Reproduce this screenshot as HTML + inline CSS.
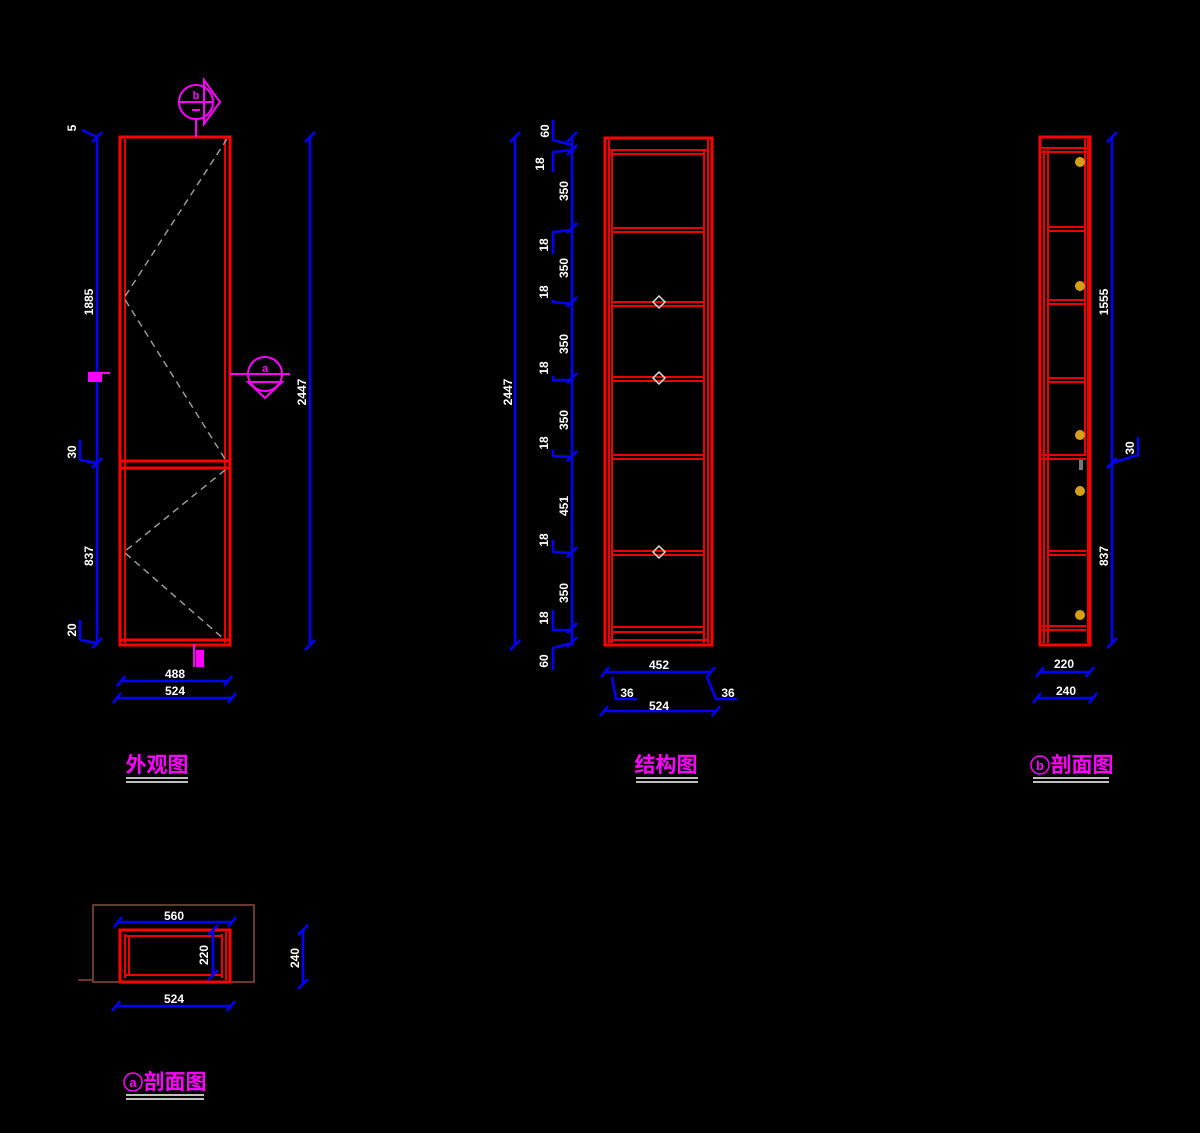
<!DOCTYPE html>
<html><head><meta charset="utf-8"><style>
html,body{margin:0;padding:0;background:#000;}
svg{display:block;}
.t{fill:#fff;font-family:"Liberation Sans",sans-serif;font-weight:bold;font-size:12px;text-anchor:middle;}
.ti{fill:#f0f;font-family:"Liberation Sans","Noto Sans CJK SC",sans-serif;font-weight:bold;font-size:21px;text-anchor:middle;}
.r{stroke:#f00;stroke-width:3;fill:none;}
.r1{stroke:#e00;stroke-width:2;fill:none;}
.b{stroke:#00f;stroke-width:2.5;fill:none;}
.m{stroke:#f0f;stroke-width:2;fill:none;}
.u{stroke:#fff;stroke-width:1.5;}
</style></head><body>
<svg width="1200" height="1133" viewBox="0 0 1200 1133" xmlns="http://www.w3.org/2000/svg">
<rect width="1200" height="1133" fill="#000"/>

<!-- ===== LEFT: 外观图 ===== -->
<rect class="r" x="120" y="137" width="110" height="508"/>
<line class="r1" x1="125" y1="139" x2="125" y2="643"/>
<line class="r1" x1="225" y1="139" x2="225" y2="643"/>
<line class="r" x1="120" y1="461" x2="230" y2="461"/>
<line class="r" x1="120" y1="468" x2="230" y2="468"/>
<line class="r" x1="120" y1="640" x2="230" y2="640"/>
<polyline points="227,139 124,298 225,459" fill="none" stroke="#999" stroke-width="1.5" stroke-dasharray="7,5"/>
<polyline points="225,470 124,552 225,640" fill="none" stroke="#999" stroke-width="1.5" stroke-dasharray="7,5"/>
<line class="b" x1="97" y1="137" x2="97" y2="645"/>
<g stroke="#00f" stroke-width="2.5"><line x1="92" y1="142" x2="102" y2="132"/><line x1="92" y1="468" x2="102" y2="458"/><line x1="92" y1="648" x2="102" y2="638"/><line x1="82" y1="130" x2="97" y2="137"/><line x1="80" y1="440" x2="80" y2="460"/><line x1="80" y1="460" x2="97" y2="463"/><line x1="80" y1="620" x2="80" y2="640"/><line x1="80" y1="640" x2="97" y2="643"/></g>
<text class="t" transform="translate(76,128) rotate(-90)">5</text>
<text class="t" transform="translate(93,302) rotate(-90)">1885</text>
<text class="t" transform="translate(76,452) rotate(-90)">30</text>
<text class="t" transform="translate(93,556) rotate(-90)">837</text>
<text class="t" transform="translate(76,630) rotate(-90)">20</text>
<rect x="88" y="372" width="14" height="10" fill="#f0f"/><line class="m" x1="88" y1="373" x2="110" y2="373"/>
<line class="b" x1="310" y1="137" x2="310" y2="645"/>
<g stroke="#00f" stroke-width="2.5"><line x1="305" y1="142" x2="315" y2="132"/><line x1="305" y1="650" x2="315" y2="640"/></g>
<text class="t" transform="translate(306,392) rotate(-90)">2447</text>
<circle class="m" cx="196" cy="102" r="17"/><line class="m" x1="180" y1="102" x2="212" y2="102"/>
<polygon points="204,80 220,102 204,124" fill="none" stroke="#f0f" stroke-width="2"/>
<line class="m" x1="196" y1="119" x2="196" y2="137"/>
<text x="196" y="99" fill="#f0f" font-size="11" font-family="Liberation Sans" font-weight="bold" text-anchor="middle">b</text>
<line class="m" x1="192" y1="110" x2="200" y2="110"/>
<circle class="m" cx="265" cy="374" r="17"/><line class="m" x1="230" y1="374" x2="290" y2="374"/>
<polygon points="248,382 265,398 282,382" fill="none" stroke="#f0f" stroke-width="2"/>
<text x="265" y="372" fill="#f0f" font-size="11" font-family="Liberation Sans" font-weight="bold" text-anchor="middle">a</text>
<line class="m" x1="261" y1="382" x2="269" y2="382"/>
<rect x="196" y="650" width="8" height="17" fill="#f0f"/><line class="m" x1="194" y1="644" x2="194" y2="667"/>
<line class="b" x1="121" y1="681" x2="228" y2="681"/>
<line class="b" x1="117" y1="698" x2="232" y2="698"/>
<g stroke="#00f" stroke-width="2.5"><line x1="117" y1="686" x2="125" y2="676"/><line x1="224" y1="686" x2="232" y2="676"/><line x1="113" y1="703" x2="121" y2="693"/><line x1="228" y1="703" x2="236" y2="693"/></g>
<text class="t" x="175" y="678">488</text>
<text class="t" x="175" y="695">524</text>
<text class="ti" x="157" y="772">外观图</text>
<line class="u" x1="126" y1="778" x2="188" y2="778"/><line class="u" x1="126" y1="782" x2="188" y2="782"/>

<!-- ===== MIDDLE: 结构图 ===== -->
<rect class="r" x="605" y="138" width="107" height="507"/>
<line class="r1" x1="609" y1="140" x2="609" y2="643"/>
<line class="r1" x1="612" y1="150" x2="612" y2="643"/>
<line class="r1" x1="704" y1="150" x2="704" y2="643"/>
<line class="r1" x1="708" y1="140" x2="708" y2="643"/>
<g class="r1">
<line x1="609" y1="150" x2="708" y2="150"/><line x1="609" y1="154" x2="704" y2="154"/>
<line x1="612" y1="228" x2="704" y2="228"/><line x1="612" y1="232" x2="704" y2="232"/>
<line x1="612" y1="302" x2="704" y2="302"/><line x1="612" y1="306" x2="704" y2="306"/>
<line x1="612" y1="377" x2="704" y2="377"/><line x1="612" y1="381" x2="704" y2="381"/>
<line x1="612" y1="455" x2="704" y2="455"/><line x1="612" y1="459" x2="704" y2="459"/>
<line x1="612" y1="551" x2="704" y2="551"/><line x1="612" y1="555" x2="704" y2="555"/>
<line x1="612" y1="627" x2="704" y2="627"/><line x1="612" y1="632" x2="704" y2="632"/>
<line x1="609" y1="640" x2="708" y2="640"/>
</g>
<g fill="none" stroke="#ddd" stroke-width="1.5"><polygon points="659,296 665,302 659,308 653,302"/><polygon points="659,372 665,378 659,384 653,378"/><polygon points="659,546 665,552 659,558 653,552"/></g>
<line class="b" x1="515" y1="137" x2="515" y2="645"/>
<g stroke="#00f" stroke-width="2.5"><line x1="510" y1="142" x2="520" y2="132"/><line x1="510" y1="650" x2="520" y2="640"/></g>
<text class="t" transform="translate(512,392) rotate(-90)">2447</text>
<line class="b" x1="572" y1="137" x2="572" y2="645"/>
<g stroke="#00f" stroke-width="2.5">
<line x1="567" y1="155" x2="577" y2="145"/><line x1="567" y1="233" x2="577" y2="223"/><line x1="567" y1="307" x2="577" y2="297"/><line x1="567" y1="383" x2="577" y2="373"/><line x1="567" y1="461" x2="577" y2="451"/><line x1="567" y1="557" x2="577" y2="547"/><line x1="567" y1="633" x2="577" y2="623"/><line x1="567" y1="647" x2="577" y2="637"/><line x1="567" y1="142" x2="577" y2="132"/>
<polyline points="553,120 553,140 572,145" fill="none"/>
<polyline points="553,172 553,152 572,150" fill="none"/>
<polyline points="553,254 553,232 572,230" fill="none"/>
<polyline points="553,300 553,302 572,304" fill="none"/>
<polyline points="553,376 553,380 572,380" fill="none"/>
<polyline points="553,450 553,456 572,457" fill="none"/>
<polyline points="553,540 553,552 572,553" fill="none"/>
<polyline points="553,610 553,630 572,630" fill="none"/>
<polyline points="553,670 553,648 572,643" fill="none"/>
</g>
<g class="t">
<text transform="translate(549,131) rotate(-90)">60</text>
<text transform="translate(544,164) rotate(-90)">18</text>
<text transform="translate(568,191) rotate(-90)">350</text>
<text transform="translate(548,245) rotate(-90)">18</text>
<text transform="translate(568,268) rotate(-90)">350</text>
<text transform="translate(548,292) rotate(-90)">18</text>
<text transform="translate(568,344) rotate(-90)">350</text>
<text transform="translate(548,368) rotate(-90)">18</text>
<text transform="translate(568,420) rotate(-90)">350</text>
<text transform="translate(548,443) rotate(-90)">18</text>
<text transform="translate(568,506) rotate(-90)">451</text>
<text transform="translate(548,540) rotate(-90)">18</text>
<text transform="translate(568,593) rotate(-90)">350</text>
<text transform="translate(548,618) rotate(-90)">18</text>
<text transform="translate(548,661) rotate(-90)">60</text>
</g>
<line class="b" x1="605" y1="672" x2="712" y2="672"/>
<line class="b" x1="603" y1="711" x2="716" y2="711"/>
<g stroke="#00f" stroke-width="2.5"><line x1="601" y1="677" x2="609" y2="667"/><line x1="707" y1="677" x2="715" y2="667"/><line x1="600" y1="716" x2="608" y2="706"/><line x1="712" y1="716" x2="720" y2="706"/>
<polyline points="612,677 616,699 637,699" fill="none"/><polyline points="707,677 716,699 737,699" fill="none"/></g>
<text class="t" x="659" y="669">452</text>
<text class="t" x="627" y="697">36</text>
<text class="t" x="728" y="697">36</text>
<text class="t" x="659" y="710">524</text>
<text class="ti" x="666" y="772">结构图</text>
<line class="u" x1="636" y1="778" x2="698" y2="778"/><line class="u" x1="636" y1="782" x2="698" y2="782"/>

<!-- ===== RIGHT: b 剖面图 ===== -->
<rect class="r" x="1040" y="137" width="50" height="508"/>
<g class="r1">
<line x1="1044" y1="150" x2="1044" y2="643"/><line x1="1048" y1="150" x2="1048" y2="643"/>
<line x1="1085" y1="139" x2="1085" y2="455"/><line x1="1088" y1="139" x2="1088" y2="643"/>
<line x1="1042" y1="148" x2="1088" y2="148"/><line x1="1042" y1="152" x2="1088" y2="152"/>
<line x1="1048" y1="227" x2="1086" y2="227"/><line x1="1048" y1="231" x2="1086" y2="231"/>
<line x1="1048" y1="300" x2="1086" y2="300"/><line x1="1048" y1="304" x2="1086" y2="304"/>
<line x1="1048" y1="378" x2="1086" y2="378"/><line x1="1048" y1="382" x2="1086" y2="382"/>
<line x1="1042" y1="455" x2="1086" y2="455"/><line x1="1042" y1="459" x2="1086" y2="459"/>
<line x1="1048" y1="551" x2="1086" y2="551"/><line x1="1048" y1="555" x2="1086" y2="555"/>
<line x1="1042" y1="626" x2="1086" y2="626"/><line x1="1042" y1="630" x2="1086" y2="630"/>
</g>
<g fill="#d4a017"><circle cx="1080" cy="162" r="5"/><circle cx="1080" cy="286" r="5"/><circle cx="1080" cy="435" r="5"/><circle cx="1080" cy="491" r="5"/><circle cx="1080" cy="615" r="5"/></g>
<rect x="1079" y="460" width="4" height="10" fill="#777"/>
<line class="b" x1="1112" y1="137" x2="1112" y2="643"/>
<g stroke="#00f" stroke-width="2.5"><line x1="1107" y1="142" x2="1117" y2="132"/><line x1="1107" y1="468" x2="1117" y2="458"/><line x1="1107" y1="648" x2="1117" y2="638"/><polyline points="1112,463 1138,455 1138,437" fill="none"/></g>
<text class="t" transform="translate(1108,302) rotate(-90)">1555</text>
<text class="t" transform="translate(1134,448) rotate(-90)">30</text>
<text class="t" transform="translate(1108,556) rotate(-90)">837</text>
<line class="b" x1="1040" y1="672" x2="1090" y2="672"/>
<line class="b" x1="1037" y1="698" x2="1093" y2="698"/>
<g stroke="#00f" stroke-width="2.5"><line x1="1036" y1="677" x2="1044" y2="667"/><line x1="1086" y1="677" x2="1094" y2="667"/><line x1="1033" y1="703" x2="1041" y2="693"/><line x1="1089" y1="703" x2="1097" y2="693"/></g>
<text class="t" x="1064" y="668">220</text>
<text class="t" x="1066" y="695">240</text>
<circle cx="1040" cy="765" r="9" fill="none" stroke="#f0f" stroke-width="1.5"/>
<text x="1040" y="770" fill="#f0f" font-size="13" font-family="Liberation Sans" font-weight="bold" text-anchor="middle">b</text>
<text class="ti" x="1082" y="772">剖面图</text>
<line class="u" x1="1033" y1="778" x2="1109" y2="778"/><line class="u" x1="1033" y1="782" x2="1109" y2="782"/>

<!-- ===== BOTTOM: a 剖面图 ===== -->
<rect x="93" y="905" width="161" height="77" fill="none" stroke="#8a4a40" stroke-width="1.5"/>
<line x1="78" y1="980" x2="93" y2="980" stroke="#8a4a40" stroke-width="1.5"/>
<rect class="r" x="120" y="930" width="110" height="52"/>
<g class="r1"><line x1="125" y1="934" x2="125" y2="978"/><line x1="129" y1="936" x2="129" y2="976"/>
<line x1="125" y1="936" x2="222" y2="936"/><line x1="125" y1="975" x2="222" y2="975"/>
<line x1="222" y1="934" x2="222" y2="978"/><line x1="226" y1="932" x2="226" y2="980"/></g>
<line class="b" x1="118" y1="922" x2="232" y2="922"/>
<g stroke="#00f" stroke-width="2.5"><line x1="114" y1="927" x2="122" y2="917"/><line x1="228" y1="927" x2="236" y2="917"/></g>
<text class="t" x="174" y="920">560</text>
<line class="b" x1="213" y1="930" x2="213" y2="976"/>
<g stroke="#00f" stroke-width="2.5"><line x1="208" y1="935" x2="218" y2="925"/><line x1="208" y1="980" x2="218" y2="970"/></g>
<text class="t" transform="translate(208,955) rotate(-90)">220</text>
<line class="b" x1="116" y1="1006" x2="231" y2="1006"/>
<g stroke="#00f" stroke-width="2.5"><line x1="112" y1="1011" x2="120" y2="1001"/><line x1="227" y1="1011" x2="235" y2="1001"/></g>
<text class="t" x="174" y="1003">524</text>
<line class="b" x1="303" y1="930" x2="303" y2="984"/>
<g stroke="#00f" stroke-width="2.5"><line x1="298" y1="935" x2="308" y2="925"/><line x1="298" y1="989" x2="308" y2="979"/></g>
<text class="t" transform="translate(299,958) rotate(-90)">240</text>
<circle cx="133" cy="1082" r="9" fill="none" stroke="#f0f" stroke-width="1.5"/>
<text x="133" y="1087" fill="#f0f" font-size="13" font-family="Liberation Sans" font-weight="bold" text-anchor="middle">a</text>
<text class="ti" x="175" y="1089">剖面图</text>
<line class="u" x1="126" y1="1095" x2="204" y2="1095"/><line class="u" x1="126" y1="1099" x2="204" y2="1099"/>
</svg>
</body></html>
